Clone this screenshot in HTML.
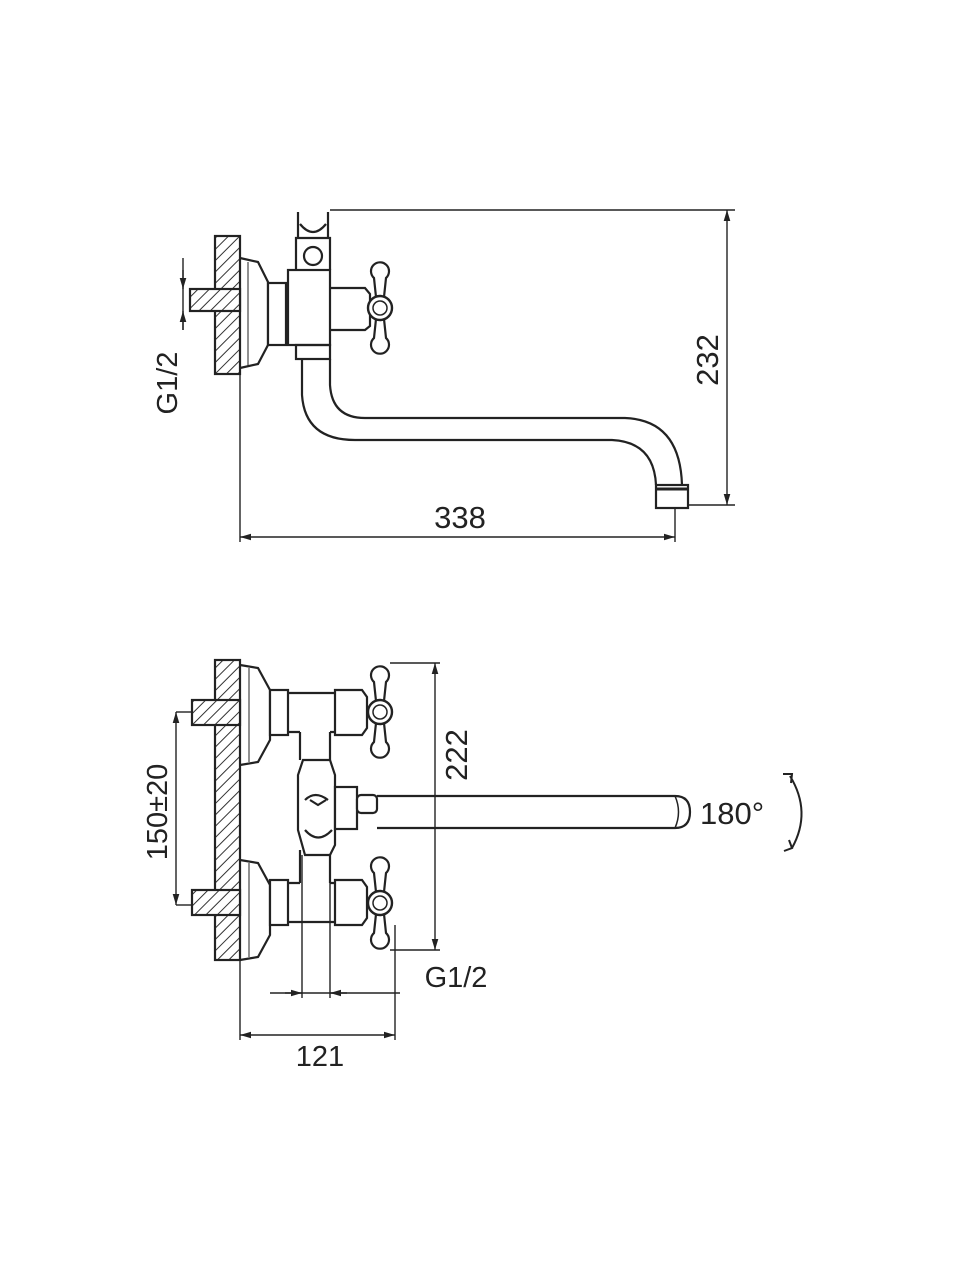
<!DOCTYPE html>
<html><head><meta charset="utf-8"><style>
html,body{margin:0;padding:0;background:#fff}
svg{display:block}
text{font-family:"Liberation Sans",sans-serif;fill:#222}
</style></head><body>
<svg width="960" height="1280" viewBox="0 0 960 1280" xmlns="http://www.w3.org/2000/svg">
<defs>
<pattern id="h" width="8" height="8" patternUnits="userSpaceOnUse" patternTransform="rotate(45)">
<rect width="8" height="8" fill="#fff"/><line x1="0" y1="0" x2="0" y2="8" stroke="#333" stroke-width="2"/>
</pattern>
<marker id="a" viewBox="0 0 10 10" refX="10" refY="5" markerWidth="8" markerHeight="8" orient="auto-start-reverse"><path d="M0,2 L10,5 L0,8z" fill="#222"/></marker>
<g id="handle">
<path d="M-4,-11 L-6,-30 A9,9 0 1 1 6,-30 L4,-11" fill="#fff" stroke="#222" stroke-width="2.2"/>
<path d="M-4,11 L-6,30 A9,9 0 1 0 6,30 L4,11" fill="#fff" stroke="#222" stroke-width="2.2"/>
<circle cx="0" cy="0" r="12" fill="#fff" stroke="#222" stroke-width="2.4"/>
<circle cx="0" cy="0" r="7" fill="#fff" stroke="#222" stroke-width="1.5"/>
</g>
</defs>
<g fill="none" stroke="#222" stroke-width="2.2">
<!-- TOP VIEW -->
<rect x="215" y="236" width="25" height="138" fill="url(#h)"/>
<rect x="190" y="289" width="50" height="22" fill="url(#h)"/>
<path d="M240,258 L258,262 L268,282 L268,345 L258,364 L240,368"/>
<line x1="248" y1="262" x2="248" y2="366" stroke-width="1"/>
<rect x="268" y="283" width="18" height="62" fill="#fff"/>
<rect x="288" y="270" width="42" height="75" fill="#fff"/>
<path d="M296,270 L296,238 L330,238 L330,270"/>
<circle cx="313" cy="256" r="9"/>
<path d="M298,238 L298,212 M328,238 L328,212 M300,224 Q313,240 326,224"/>
<rect x="296" y="345" width="34" height="14"/>
<path d="M330,288 L365,288 L370,294 L370,326 L365,330 L330,330"/>
<use href="#handle" x="380" y="308"/>
<!-- spout -->
<path d="M330,359 L330,385 Q332,418 365,418 L625,418 Q680,420 682,485"/>
<path d="M302,359 L302,395 Q305,440 355,440 L612,440 Q654,442 656,485"/>
<rect x="656" y="485" width="32" height="23" fill="#fff"/>
<line x1="656" y1="489" x2="688" y2="489" stroke-width="3"/>
<!-- dims top -->
<g stroke-width="1.4">
<line x1="330" y1="210" x2="735" y2="210"/>
<line x1="688" y1="505" x2="735" y2="505"/>
<line x1="727" y1="210" x2="727" y2="505" marker-start="url(#a)" marker-end="url(#a)"/>
<line x1="240" y1="374" x2="240" y2="542"/>
<line x1="675" y1="508" x2="675" y2="542"/>
<line x1="240" y1="537" x2="675" y2="537" marker-start="url(#a)" marker-end="url(#a)"/>
<line x1="183" y1="258" x2="183" y2="330"/>
<line x1="183" y1="270" x2="183" y2="289" marker-end="url(#a)"/>
<line x1="183" y1="330" x2="183" y2="311" marker-end="url(#a)"/>
</g>

<!-- BOTTOM VIEW -->
<rect x="215" y="660" width="25" height="300" fill="url(#h)"/>
<rect x="192" y="700" width="48" height="25" fill="url(#h)"/>
<rect x="192" y="890" width="48" height="25" fill="url(#h)"/>
<path d="M240,665 L258,668 L270,690 L270,740 L258,762 L240,765"/>
<line x1="249" y1="668" x2="249" y2="762" stroke-width="1"/>
<path d="M240,860 L258,863 L270,885 L270,935 L258,957 L240,960"/>
<line x1="249" y1="863" x2="249" y2="957" stroke-width="1"/>
<rect x="270" y="690" width="18" height="45" fill="#fff"/>
<rect x="270" y="880" width="18" height="45" fill="#fff"/>
<path d="M288,693 L335,693 M288,732 L300,732 M330,732 L335,732"/>
<path d="M288,883 L300,883 M330,883 L335,883 M288,922 L335,922"/>
<path d="M335,690 L362,690 L367,697 L367,728 L362,735 L335,735 Z" fill="#fff"/>
<path d="M335,880 L362,880 L367,887 L367,918 L362,925 L335,925 Z" fill="#fff"/>
<use href="#handle" x="380" y="712"/>
<use href="#handle" x="380" y="903"/>
<path d="M300,732 L300,760 M330,732 L330,760 M300,850 L300,883 M330,850 L330,883"/>
<path d="M303,760 L330,760 L335,775 L335,845 L330,855 L305,855 L298,830 L298,775 Z" fill="#fff"/>
<path d="M305,800 Q315,790 328,800 M310,800 L318,805 L326,800"/>
<path d="M305,830 Q318,845 332,830"/>
<rect x="335" y="787" width="22" height="42" fill="#fff"/>
<rect x="357" y="795" width="20" height="18" rx="4" fill="#fff"/>
<path d="M377,796 L675,796 M377,828 L675,828"/>
<path d="M675,796 Q690,796 690,812 Q690,828 675,828"/>
<path d="M675,796 Q682,812 675,828" stroke-width="1.5"/>
<path d="M790,776 Q812,812 792,848" stroke-width="2"/>
<path d="M783,774 L792,774 L791,783" stroke-width="2"/>
<path d="M784,851 L792,848 L789,840" stroke-width="2"/>
<g stroke-width="1.4">
<line x1="390" y1="663" x2="440" y2="663"/>
<line x1="390" y1="950" x2="440" y2="950"/>
<line x1="435" y1="663" x2="435" y2="950" marker-start="url(#a)" marker-end="url(#a)"/>
<line x1="176" y1="712" x2="192" y2="712"/>
<line x1="176" y1="905" x2="192" y2="905"/>
<line x1="176" y1="712" x2="176" y2="905" marker-start="url(#a)" marker-end="url(#a)"/>
<line x1="302" y1="855" x2="302" y2="998"/>
<line x1="330" y1="855" x2="330" y2="998"/>
<line x1="270" y1="993" x2="400" y2="993"/>
<line x1="285" y1="993" x2="302" y2="993" marker-end="url(#a)"/>
<line x1="347" y1="993" x2="330" y2="993" marker-end="url(#a)"/>
<line x1="240" y1="960" x2="240" y2="1040"/>
<line x1="395" y1="925" x2="395" y2="1040"/>
<line x1="240" y1="1035" x2="395" y2="1035" marker-start="url(#a)" marker-end="url(#a)"/>
</g>
</g>
<g stroke="none">
<text x="460" y="528" font-size="31" text-anchor="middle">338</text>
<text transform="translate(718,360) rotate(-90)" font-size="31" text-anchor="middle">232</text>
<text transform="translate(177,383) rotate(-90)" font-size="29" text-anchor="middle">G1/2</text>
<text transform="translate(167,812) rotate(-90)" font-size="29" text-anchor="middle">150±20</text>
<text transform="translate(467,755) rotate(-90)" font-size="31" text-anchor="middle">222</text>
<text x="456" y="987" font-size="29" text-anchor="middle">G1/2</text>
<text x="320" y="1066" font-size="29" text-anchor="middle">121</text>
<text x="700" y="824" font-size="31">180°</text>
</g>
</svg>
</body></html>
